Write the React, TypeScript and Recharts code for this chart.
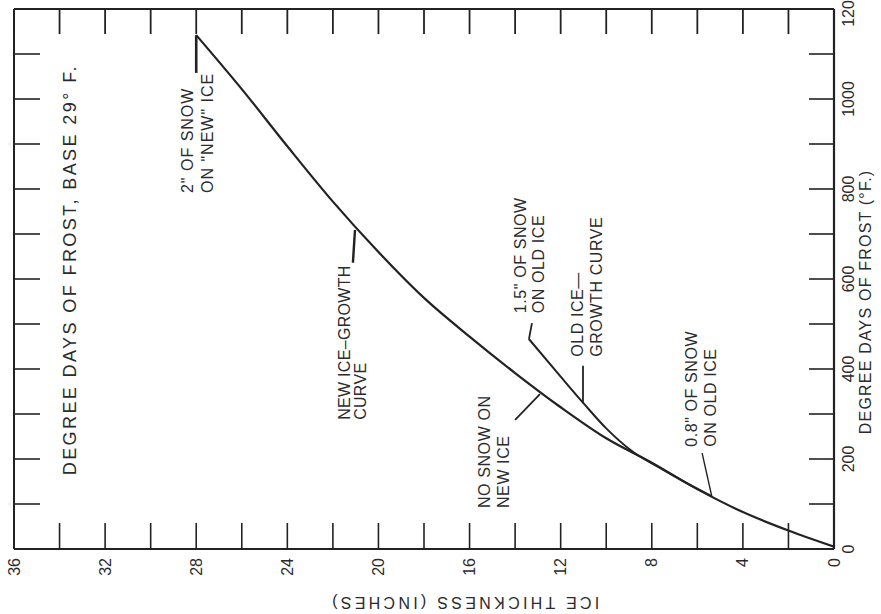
import { LineChart, Line, XAxis, YAxis, ReferenceLine, ReferenceDot } from "recharts";

// ice thickness (inches) on the horizontal axis, degree days of frost on the vertical
const thicknessTicks = [0, 2, 4, 6, 8, 10, 12, 14, 16, 18, 20, 22, 24, 26, 28, 30, 32, 34, 36];
const frostTicks = [0, 100, 200, 300, 400, 500, 600, 700, 800, 900, 1000, 1100, 1200];

const newIceThickness = [0, 2, 4, 6, 8, 10, 12, 14, 16, 18, 20, 22, 24, 26, 28];
const newIceFrost = [5, 41, 82, 133, 192, 246, 315, 391, 472, 558, 660, 772, 895, 1022, 1142];

const oldIceThickness = [5.4, 6.6, 7.7, 8.8, 10, 11, 12, 13.4];
const oldIceFrost = [118, 150, 182, 215, 268, 324, 383, 467];

const newIce = newIceThickness.map((h, i) => ({ h, dd: newIceFrost[i] }));
const oldIce = oldIceThickness.map((h, i) => ({ h, dd: oldIceFrost[i] }));

const INK = "#222";
const TEXT = "#2b2b2b";
const FONT = "'Liberation Sans', Arial, sans-serif";

const W = 881;
const H = 614;
const TOP = 9;
const LEFT = 14;
const X_AXIS_H = 65;
const Y_AXIS_W = 47;
const PLOT_W = W - LEFT - Y_AXIS_W;
const PLOT_H = H - TOP - X_AXIS_H;

// bottom tick: inward tick at the bottom plus the matching one hanging from the top frame
function BottomTick({ x, y, payload }: any) {
  const v = Number(payload.value);
  const top = y - PLOT_H;
  return (
    <g>
      <line x1={x} y1={y} x2={x} y2={y - 26} stroke={INK} strokeWidth={1.6} />
      <path d={`M${x},${top} L${x},${top + 25}`} stroke={INK} strokeWidth={1.8} fill="none" />
      {v % 4 === 0 && (
        <text
          transform={`translate(${x + 5.5},${y + 9}) rotate(-90)`}
          textAnchor="end"
          fontSize={16}
          fontFamily={FONT}
          fill={TEXT}
        >
          {v}
        </text>
      )}
    </g>
  );
}

// right tick: inward tick on the right plus the matching one on the left frame
function RightTick({ x, y, payload }: any) {
  const v = Number(payload.value);
  const left = x - PLOT_W;
  return (
    <g>
      <line x1={x} y1={y} x2={x - 25} y2={y} stroke={INK} strokeWidth={1.6} />
      <line x1={left} y1={y} x2={left + 26} y2={y} stroke={INK} strokeWidth={1.6} />
      {v === 1200 && <path d={`M${left},${y} L${x},${y}`} stroke={INK} strokeWidth={2.2} fill="none" />}
      {v % 200 === 0 && (
        <text
          transform={`translate(${x + 20},${y}) rotate(-90)`}
          textAnchor="middle"
          fontSize={16}
          fontFamily={FONT}
          fill={TEXT}
        >
          {v}
        </text>
      )}
    </g>
  );
}

function Note({ cx, cy, lines, gap = 19, size = 16, spacing = 0.6, angle = -90, anchor = "start" }: any) {
  return (
    <text
      transform={`translate(${cx},${cy}) rotate(${angle})`}
      fontSize={size}
      letterSpacing={spacing}
      fontFamily={FONT}
      fill={TEXT}
      textAnchor={anchor}
    >
      {lines.map((l: string, i: number) => (
        <tspan key={i} x={0} y={i * gap}>
          {l}
        </tspan>
      ))}
    </text>
  );
}

const pointer = { stroke: INK, strokeWidth: 1.8, ifOverflow: "visible" as const };

export default function App() {
  return (
    <div style={{ position: "absolute", left: 0, top: 0 }}>
      <LineChart width={W} height={H} margin={{ top: TOP, right: 0, bottom: 0, left: LEFT }}>
        <XAxis
          dataKey="h"
          type="number"
          domain={[0, 36]}
          allowDataOverflow
          reversed
          ticks={thicknessTicks}
          interval={0}
          tickSize={0}
          tickMargin={0}
          height={X_AXIS_H}
          axisLine={{ stroke: INK, strokeWidth: 2.2 }}
          tick={<BottomTick />}
        />
        <YAxis
          orientation="right"
          type="number"
          domain={[0, 1200]}
          allowDataOverflow
          ticks={frostTicks}
          interval={0}
          tickSize={0}
          tickMargin={0}
          width={Y_AXIS_W}
          axisLine={{ stroke: INK, strokeWidth: 2.2 }}
          tick={<RightTick />}
        />

        {/* left frame */}
        <ReferenceLine x={36} stroke={INK} strokeWidth={2} ifOverflow="visible" />

        <Line
          data={newIce}
          dataKey="dd"
          type="monotone"
          stroke={INK}
          strokeWidth={2.2}
          dot={false}
          activeDot={false}
          isAnimationActive={false}
        />
        <Line
          data={oldIce}
          dataKey="dd"
          type="monotone"
          stroke={INK}
          strokeWidth={2}
          dot={false}
          activeDot={false}
          isAnimationActive={false}
        />

        {/* pointer lines from notes to curves */}
        <ReferenceLine segment={[{ x: 28, y: 1142 }, { x: 28, y: 1058 }]} {...pointer} strokeWidth={2.6} />
        <ReferenceLine segment={[{ x: 21.03, y: 709 }, { x: 21.12, y: 636 }]} {...pointer} strokeWidth={2.4} />
        <ReferenceLine segment={[{ x: 12.91, y: 344 }, { x: 14.0, y: 287 }]} {...pointer} />
        <ReferenceLine segment={[{ x: 13.39, y: 467 }, { x: 13.26, y: 502 }]} {...pointer} />
        <ReferenceLine segment={[{ x: 11.02, y: 324 }, { x: 11.02, y: 407 }]} {...pointer} />
        <ReferenceLine segment={[{ x: 5.36, y: 116 }, { x: 5.79, y: 213 }]} {...pointer} strokeWidth={1.4} />

        {/* notes */}
        <ReferenceDot
          x={33.28}
          y={164}
          r={0}
          ifOverflow="visible"
          shape={(p: any) => <Note {...p} lines={["DEGREE DAYS OF  FROST, BASE  29° F."]} size={18} spacing={2.4} />}
        />
        <ReferenceDot
          x={28.14}
          y={791}
          r={0}
          ifOverflow="visible"
          shape={(p: any) => <Note {...p} lines={['2" OF  SNOW', 'ON "NEW" ICE']} gap={20} spacing={1} />}
        />
        <ReferenceDot
          x={21.25}
          y={287}
          r={0}
          ifOverflow="visible"
          shape={(p: any) => <Note {...p} lines={["NEW ICE–GROWTH", "CURVE"]} gap={16} spacing={0.3} />}
        />
        <ReferenceDot
          x={15.1}
          y={91}
          r={0}
          ifOverflow="visible"
          shape={(p: any) => <Note {...p} lines={["NO  SNOW  ON", "NEW  ICE"]} gap={19} spacing={0.6} />}
        />
        <ReferenceDot
          x={13.52}
          y={524}
          r={0}
          ifOverflow="visible"
          shape={(p: any) => <Note {...p} lines={['1.5" OF  SNOW', "ON  OLD  ICE"]} gap={18} spacing={0.6} />}
        />
        <ReferenceDot
          x={11.02}
          y={427}
          r={0}
          ifOverflow="visible"
          shape={(p: any) => <Note {...p} lines={["OLD  ICE—", "GROWTH  CURVE"]} gap={19} spacing={0.6} />}
        />
        <ReferenceDot
          x={6.01}
          y={227}
          r={0}
          ifOverflow="visible"
          shape={(p: any) => <Note {...p} lines={['0.8" OF  SNOW', "ON  OLD  ICE"]} gap={19} spacing={0.6} />}
        />

        {/* axis titles */}
        <ReferenceDot
          x={-1.62}
          y={549}
          r={0}
          ifOverflow="visible"
          shape={(p: any) => (
            <Note {...p} lines={["DEGREE  DAYS  OF  FROST  (°F.)"]} anchor="middle" spacing={1.2} />
          )}
        />
        <ReferenceDot
          x={16.24}
          y={-106.7}
          r={0}
          ifOverflow="visible"
          shape={(p: any) => (
            <Note {...p} lines={["ICE  THICKNESS   (INCHES)"]} angle={180} anchor="middle" spacing={3.3} />
          )}
        />
      </LineChart>
    </div>
  );
}
